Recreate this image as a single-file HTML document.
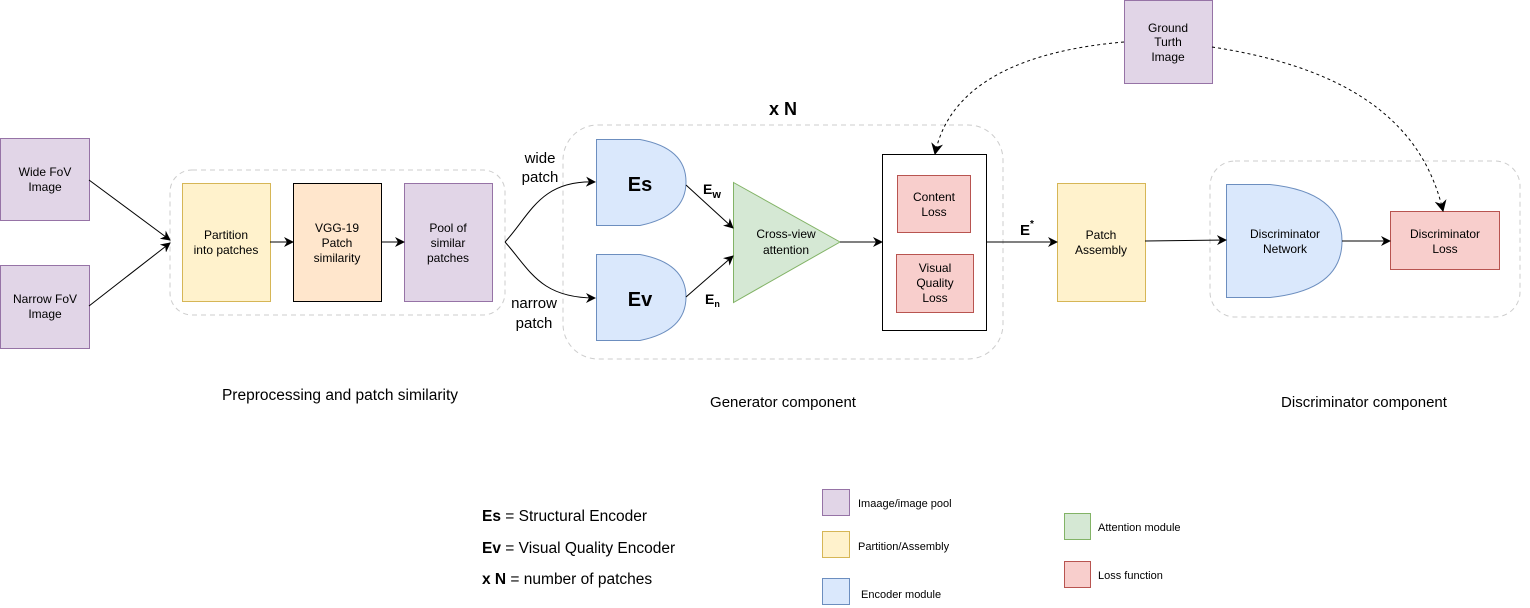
<!DOCTYPE html>
<html><head><meta charset="utf-8"><style>
html,body{margin:0;padding:0;background:#fff;}
svg{display:block;font-family:"Liberation Sans",Arial,sans-serif;}
</style></head><body>
<svg width="1530" height="608" viewBox="0 0 1530 608" xmlns="http://www.w3.org/2000/svg">
<defs>
<marker id="ah" viewBox="0 0 10 10" refX="9" refY="5" markerWidth="10" markerHeight="10" orient="auto" markerUnits="userSpaceOnUse"><path d="M0,0 L10,5 L0,10 L3,5 z" fill="#000"/></marker>
<marker id="ah2" viewBox="0 0 10 10" refX="9" refY="5" markerWidth="12" markerHeight="12" orient="auto" markerUnits="userSpaceOnUse"><path d="M0,0 L10,5 L0,10 L3,5 z" fill="#000"/></marker>
</defs>
<g fill="none" stroke="#ccc" stroke-dasharray="5,4" stroke-width="1">
<rect x="170" y="170" width="335" height="145" rx="22"/>
<rect x="563" y="125" width="440" height="234" rx="35"/>
<rect x="1210" y="161" width="310" height="156" rx="25"/>
</g>
<g stroke-width="1">
<rect x="0.5" y="138.5" width="89" height="82" fill="#e1d5e7" stroke="#9673a6"/>
<rect x="0.5" y="265.5" width="89" height="83" fill="#e1d5e7" stroke="#9673a6"/>
<rect x="182.5" y="183.5" width="88" height="118" fill="#fff2cc" stroke="#d6b656"/>
<rect x="293.5" y="183.5" width="88" height="118" fill="#ffe6cc" stroke="#000"/>
<rect x="404.5" y="183.5" width="88" height="118" fill="#e1d5e7" stroke="#9673a6"/>
<path d="M596.5,139.5 L640,139.5 Q686,148 686,182 Q686,216 640,225.5 L596.5,225.5 Z" fill="#dae8fc" stroke="#6c8ebf"/>
<path d="M596.5,254.5 L640,254.5 Q686,263 686,297 Q686,331 640,340.5 L596.5,340.5 Z" fill="#dae8fc" stroke="#6c8ebf"/>
<path d="M733.5,182.5 L840,242 L733.5,302.5 Z" fill="#d5e8d4" stroke="#82b366"/>
<rect x="882.5" y="154.5" width="104" height="176" fill="#fff" stroke="#000"/>
<rect x="897.5" y="175.5" width="73" height="57" fill="#f8cecc" stroke="#b85450"/>
<rect x="896.5" y="254.5" width="77" height="58" fill="#f8cecc" stroke="#b85450"/>
<rect x="1057.5" y="183.5" width="88" height="118" fill="#fff2cc" stroke="#d6b656"/>
<rect x="1124.5" y="0.5" width="88" height="83" fill="#e1d5e7" stroke="#9673a6"/>
<path d="M1226.5,184.5 L1270,184.5 Q1342,192 1342,241 Q1342,290 1270,297.5 L1226.5,297.5 Z" fill="#dae8fc" stroke="#6c8ebf"/>
<rect x="1390.5" y="211.5" width="109" height="58" fill="#f8cecc" stroke="#b85450"/>
</g>
<g fill="none" stroke="#000" stroke-width="1">
<line x1="89" y1="180" x2="170" y2="240" marker-end="url(#ah)"/>
<line x1="89" y1="306" x2="170" y2="243" marker-end="url(#ah)"/>
<line x1="270" y1="242" x2="293" y2="242" marker-end="url(#ah)"/>
<line x1="381" y1="242" x2="404" y2="242" marker-end="url(#ah)"/>
<path d="M505,242 C530,215 540,180 595,182" marker-end="url(#ah)"/>
<path d="M505,242 C530,270 540,298 595,298" marker-end="url(#ah)"/>
<line x1="686" y1="185" x2="733" y2="228" marker-end="url(#ah)"/>
<line x1="686" y1="297" x2="733" y2="256" marker-end="url(#ah)"/>
<line x1="840" y1="242" x2="882" y2="242" marker-end="url(#ah)"/>
<line x1="986" y1="242" x2="1057" y2="242" marker-end="url(#ah)"/>
<line x1="1145" y1="241" x2="1226" y2="240" marker-end="url(#ah)"/>
<line x1="1342" y1="241" x2="1390" y2="241" marker-end="url(#ah)"/>
<path d="M1124,42 C1030,50 950,80 935,154" stroke-dasharray="3,3" marker-end="url(#ah2)"/>
<path d="M1212,47 C1330,65 1420,110 1443,211" stroke-dasharray="3,3" marker-end="url(#ah2)"/>
</g>
<g font-size="12" fill="#000" text-anchor="middle">
<text x="45" y="176">Wide FoV</text><text x="45" y="191">Image</text>
<text x="45" y="303">Narrow FoV</text><text x="45" y="318">Image</text>
<text x="226" y="239">Partition</text><text x="226" y="254">into patches</text>
<text x="337" y="232">VGG-19</text><text x="337" y="247">Patch</text><text x="337" y="262">similarity</text>
<text x="448" y="232">Pool of</text><text x="448" y="247">similar</text><text x="448" y="262">patches</text>
<text x="786" y="238">Cross-view</text><text x="786" y="254">attention</text>
<text x="934" y="201">Content</text><text x="934" y="216">Loss</text>
<text x="935" y="272">Visual</text><text x="935" y="287">Quality</text><text x="935" y="302">Loss</text>
<text x="1101" y="239">Patch</text><text x="1101" y="254">Assembly</text>
<text x="1168" y="32">Ground</text><text x="1168" y="46">Turth</text><text x="1168" y="61">Image</text>
<text x="1285" y="238">Discriminator</text><text x="1285" y="253">Network</text>
<text x="1445" y="238">Discriminator</text><text x="1445" y="253">Loss</text>
</g>
<g font-size="15" fill="#000">
<text x="540" y="163" text-anchor="middle">wide</text><text x="540" y="182" text-anchor="middle">patch</text>
<text x="534" y="308" text-anchor="middle">narrow</text><text x="534" y="328" text-anchor="middle">patch</text>
<text x="340" y="400" text-anchor="middle" font-size="15.5">Preprocessing and patch similarity</text>
<text x="783" y="407" text-anchor="middle">Generator component</text>
<text x="1364" y="407" text-anchor="middle">Discriminator component</text>
</g>
<g font-weight="bold" fill="#000">
<text x="783" y="115" font-size="18" text-anchor="middle">x N</text>
<text x="640" y="191" font-size="20" text-anchor="middle">Es</text>
<text x="640" y="306" font-size="20" text-anchor="middle">Ev</text>
<text x="703" y="194" font-size="14">E<tspan font-size="11" dy="4">w</tspan></text>
<text x="705" y="304" font-size="14">E<tspan font-size="9" dy="3">n</tspan></text>
<text x="1020" y="235" font-size="15">E<tspan font-size="10" dy="-8">*</tspan></text>
</g>
<g font-size="15.5" fill="#000">
<text x="482" y="521"><tspan font-weight="bold">Es</tspan> = Structural Encoder</text>
<text x="482" y="553"><tspan font-weight="bold">Ev</tspan> = Visual Quality Encoder</text>
<text x="482" y="584"><tspan font-weight="bold">x N</tspan> = number of patches</text>
</g>
<g stroke-width="1">
<rect x="822.5" y="489.5" width="27" height="26" fill="#e1d5e7" stroke="#9673a6"/>
<rect x="822.5" y="531.5" width="27" height="26" fill="#fff2cc" stroke="#d6b656"/>
<rect x="822.5" y="578.5" width="27" height="26" fill="#dae8fc" stroke="#6c8ebf"/>
<rect x="1064.5" y="513.5" width="26" height="26" fill="#d5e8d4" stroke="#82b366"/>
<rect x="1064.5" y="561.5" width="26" height="26" fill="#f8cecc" stroke="#b85450"/>
</g>
<g font-size="11" fill="#000">
<text x="858" y="507">Imaage/image pool</text>
<text x="858" y="550">Partition/Assembly</text>
<text x="861" y="598">Encoder module</text>
<text x="1098" y="531">Attention module</text>
<text x="1098" y="579">Loss function</text>
</g>
</svg>
</body></html>
